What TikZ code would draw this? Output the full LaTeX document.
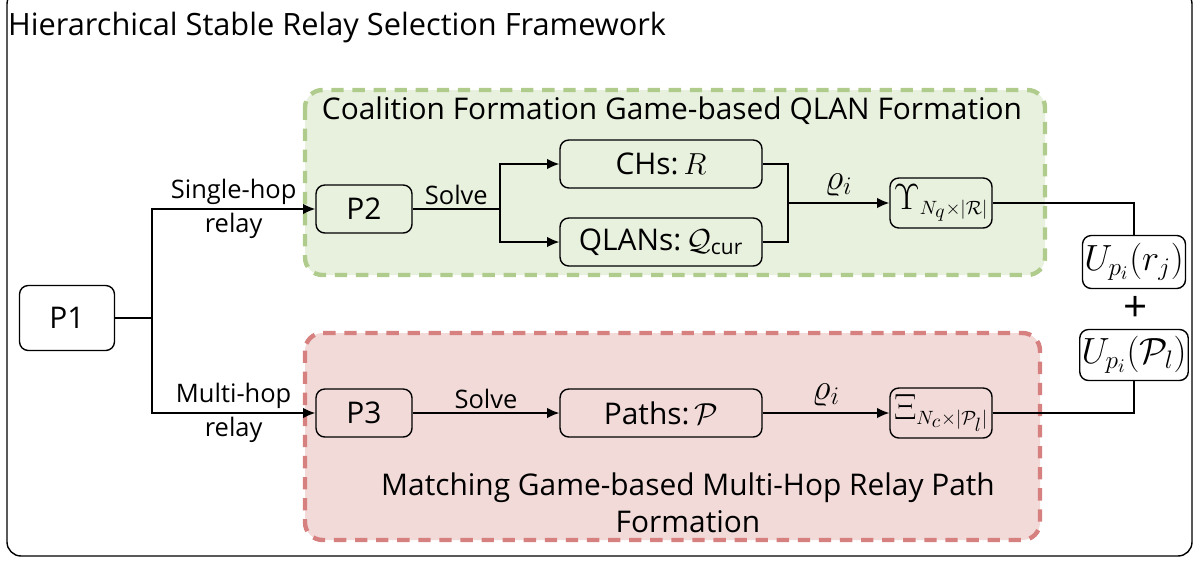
\documentclass[tikz,border=0pt]{standalone}
\usepackage{fontspec}
\usepackage{amsmath}
\setmainfont{Open Sans}
\usetikzlibrary{arrows.meta}
\definecolor{gfill}{RGB}{232,240,222}
\definecolor{gdraw}{RGB}{176,204,140}
\definecolor{rfill}{RGB}{242,218,216}
\definecolor{rdraw}{RGB}{214,128,128}
\begin{document}
\begin{tikzpicture}[x=0.02cm,y=-0.02cm,
  box/.style={draw,thick,rounded corners=5pt,minimum height=0.96cm,inner sep=1pt,align=center,font=\fontsize{17}{19}\selectfont},
  mbox/.style={box,font=\fontsize{21}{23}\selectfont},
  lab/.style={font=\fontsize{14.5}{16}\selectfont,align=center,inner sep=2pt},
  arr/.style={-{Latex[length=7pt,width=6pt]},thick},
  ln/.style={thick}]
\useasboundingbox (0,0) rectangle (1200,561);
\draw[thick,rounded corners=8pt] (7,-10) rectangle (1192,556);
\node[anchor=west,font=\fontsize{17.5}{20}\selectfont] (title) at (2,28) {Hierarchical Stable Relay Selection Framework};
\draw[gdraw,fill=gfill,line width=2.5pt,dash pattern=on 7pt off 5pt,rounded corners=10pt] (305,90) rectangle (1045,275);
\draw[rdraw,fill=rfill,line width=2.5pt,dash pattern=on 7pt off 5pt,rounded corners=10pt] (305,333) rectangle (1040,540);
\node[font=\fontsize{17}{19}\selectfont] (gt) at (672,111) {Coalition Formation Game-based QLAN Formation};
\node[font=\fontsize{17}{21}\selectfont,align=center] (rt) at (688,503) {Matching Game-based Multi-Hop Relay Path\\Formation};
\node[box,minimum width=1.9cm,minimum height=1.3cm] (p1) at (67,318) {P1};
\node[box,minimum width=1.92cm] (p2) at (364,209) {P2};
\node[box,minimum width=1.92cm] (p3) at (364,413) {P3};
\node[box,minimum width=4.04cm] (ch) at (661,164) {CHs:\,$R$};
\node[box,minimum width=4.04cm] (ql) at (661,242) {QLANs:\,$\mathcal{Q}_{\mathrm{cur}}$};
\node[box,minimum width=4.04cm] (pa) at (661,413) {Paths:\,$\mathcal{P}$};
\node[mbox,minimum width=2.04cm,minimum height=1cm] (up) at (941,203) {$\Upsilon_{\scriptscriptstyle N_q\times|\mathcal{R}|}$};
\node[mbox,minimum width=2.04cm,minimum height=1cm] (xi) at (941,413) {$\Xi_{\scriptscriptstyle N_c\times|\mathcal{P}_l|}$};
\node[mbox,minimum width=2.06cm,minimum height=1.06cm] (u1) at (1134,262) {$U_{p_i}(r_j)$};
\node[mbox,minimum width=2.06cm,minimum height=1.02cm] (u2) at (1134,355) {$U_{p_i}(\mathcal{P}_l)$};
\node[font=\fontsize{24}{24}\selectfont] (plus) at (1136,309) {+};
\coordinate (j1) at (152,318);
\draw[ln] (p1.east) -- (j1);
\draw[arr] (j1) |- (p2.west) node[lab,pos=0.75,above] {Single-hop} node[lab,pos=0.75,below] {relay};
\draw[arr] (j1) |- (p3.west) node[lab,pos=0.75,above] {Multi-hop} node[lab,pos=0.75,below] {relay};
\coordinate (j2) at (500,209);
\draw[ln] (p2.east) -- node[lab,above] {Solve} (j2);
\draw[arr] (j2) |- (ch.west);
\draw[arr] (j2) |- (ql.west);
\coordinate (j3) at (788,203);
\draw[ln] (ch.east) -| (j3);
\draw[ln] (ql.east) -| (j3);
\draw[arr] (j3) -- node[above,font=\fontsize{20}{22}\selectfont] {$\varrho_i$} (up.west);
\draw[arr] (p3.east) -- node[lab,above] {Solve} (pa.west);
\draw[arr] (pa.east) -- node[above,font=\fontsize{20}{22}\selectfont] {$\varrho_i$} (xi.west);
\draw[ln] (up.east) -| (u1.north);
\draw[ln] (xi.east) -| (u2.south);
\end{tikzpicture}
\end{document}
